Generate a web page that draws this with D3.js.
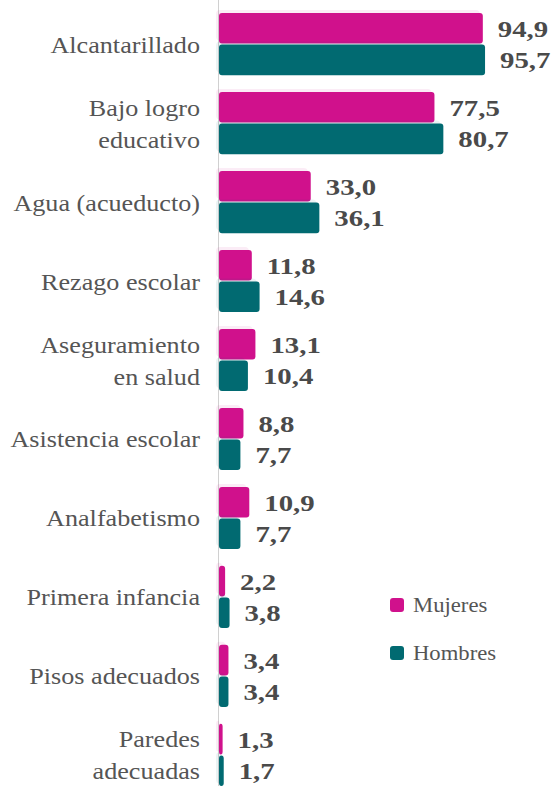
<!DOCTYPE html>
<html><head><meta charset="utf-8">
<script src="https://cdn.jsdelivr.net/npm/d3@7"></script>
<style>body{margin:0;background:#fff}svg{display:block}</style>
</head><body>
<svg id="c" width="555" height="786"></svg>
<script>
const categories = ["Alcantarillado","Bajo logro educativo","Agua (acueducto)","Rezago escolar","Aseguramiento en salud","Asistencia escolar","Analfabetismo","Primera infancia","Pisos adecuados","Paredes adecuadas"];
const labelLines = [["Alcantarillado"],["Bajo logro","educativo"],["Agua (acueducto)"],["Rezago escolar"],["Aseguramiento","en salud"],["Asistencia escolar"],["Analfabetismo"],["Primera infancia"],["Pisos adecuados"],["Paredes","adecuadas"]];
const series = ["Mujeres","Hombres"];
const mujeres = [94.9,77.5,33.0,11.8,13.1,8.8,10.9,2.2,3.4,1.3];
const hombres = [95.7,80.7,36.1,14.6,10.4,7.7,7.7,3.8,3.4,1.7];
const colors = ["#D0118C","#016A71"];
const fmt = v => v.toFixed(1).replace(".", ",");
const FONT = "Liberation Serif";

const svg = d3.select("#c");
const x = d3.scaleLinear().domain([0,100]).range([219,497]);
const y = d3.scaleBand().domain(categories).range([13,787]).paddingInner(0.2).paddingOuter(0);
const ys = d3.scaleBand().domain(series).range([0,y.bandwidth()]);

const data = categories.map((c,i)=>({c, i, vals:[mujeres[i],hombres[i]]}));

svg.append("line").attr("x1",218.5).attr("x2",218.5).attr("y1",0).attr("y2",786)
  .attr("stroke","#d0d0d0").attr("stroke-width",1);

const g = svg.selectAll("g.grp").data(data).join("g").attr("class","grp")
  .attr("transform",d=>`translate(0,${y(d.c)})`);

series.forEach((s,si)=>{
  g.append("rect")
    .attr("x",x(0)-3).attr("y",ys(s)-3)
    .attr("width",d=>Math.max(3,x(d.vals[si])-x(0)))
    .attr("height",ys.bandwidth()-1)
    .attr("rx",4).attr("fill",colors[si]).attr("opacity",0.08);
  g.append("rect")
    .attr("x",x(0)).attr("y",ys(s))
    .attr("width",d=>Math.max(2,x(d.vals[si])-x(0)))
    .attr("height",ys.bandwidth()-1)
    .attr("rx",3).attr("fill",colors[si]);
  g.append("text")
    .attr("transform",d=>`translate(${x(d.vals[si])+15},${ys(s)+ys.bandwidth()/2+8}) scale(1.2,1)`)
    .attr("font-family",FONT).attr("font-weight","bold")
    .attr("font-size",24).attr("fill","#4a4a4a")
    .text(d=>fmt(d.vals[si]));
});

g.each(function(d){
  const lines = labelLines[d.i];
  const n = lines.length;
  const cy = y.bandwidth()/2;
  lines.forEach((ln,k)=>{
    d3.select(this).append("text")
      .attr("transform",`translate(200,${cy+8+(k-(n-1)/2)*32}) scale(1.09,1)`)
      .attr("text-anchor","end")
      .attr("font-family",FONT).attr("font-size",24)
      .attr("fill","#555").text(ln);
  });
});

const lg = svg.append("g");
series.forEach((s,si)=>{
  lg.append("rect").attr("x",390).attr("y",598+si*48).attr("width",14).attr("height",14)
    .attr("rx",3).attr("fill",colors[si]);
  lg.append("text").attr("transform",`translate(413,${612+si*48}) scale(1.08,1)`)
    .attr("font-family",FONT).attr("font-size",21)
    .attr("fill","#555").text(s);
});
</script>
</body></html>
